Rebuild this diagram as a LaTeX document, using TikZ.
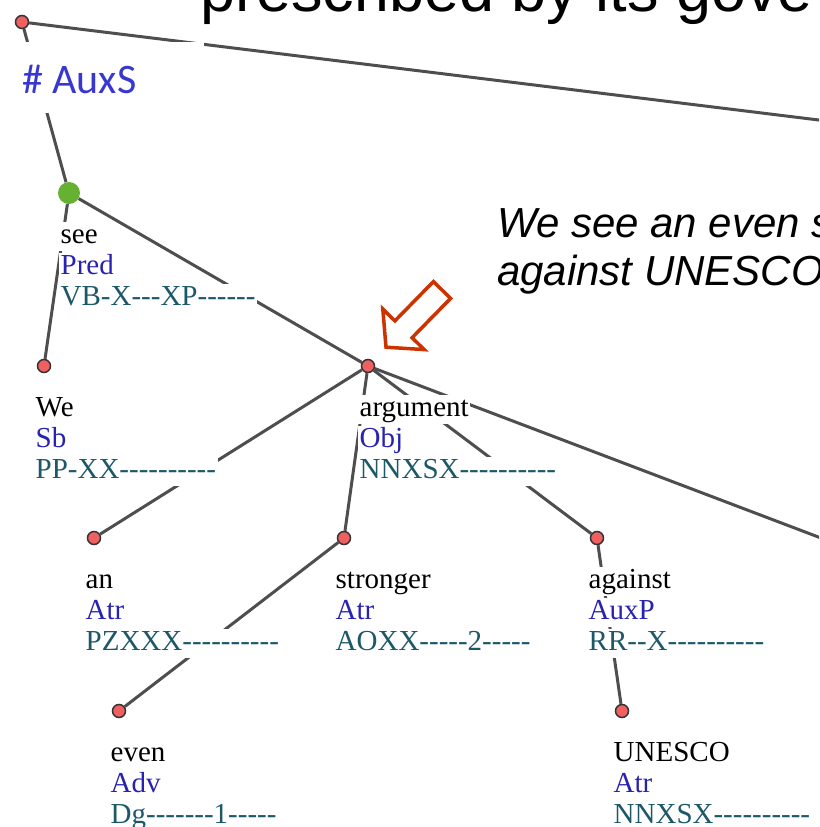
\documentclass[tikz,border=0pt]{standalone}
\usepackage{fontspec}
\setmainfont{Liberation Serif}[Ligatures=TeXOff]
\newfontfamily\slidesans{Liberation Sans}
\newfontfamily\auxsans{Carlito}
\usetikzlibrary{positioning}

\definecolor{nodered}{RGB}{240,96,96}
\definecolor{nodegreen}{RGB}{102,176,50}
\definecolor{edgegray}{RGB}{78,78,78}
\definecolor{afunblue}{RGB}{40,34,176}
\definecolor{tagteal}{RGB}{28,88,104}
\definecolor{auxblue}{RGB}{56,56,208}
\definecolor{arrowred}{RGB}{204,51,0}

\setlength{\fboxsep}{1.5pt}
% one row of a tree label, on white so that edges break behind it
\newcommand{\lblrow}[2]{\colorbox{white}{\color{#1}\vrule width 0pt height 20pt depth 6pt #2}}
\newcommand{\treelbl}[3]{\lblrow{black}{#1}\\\lblrow{afunblue}{#2}\\\lblrow{tagteal}{#3}}

\tikzset{
  tnode/.style={circle, draw=black!80, fill=nodered, line width=1.5pt, minimum size=13pt, inner sep=0pt},
  prednode/.style={circle, fill=nodegreen, minimum size=22pt, inner sep=0pt},
  dep/.style={draw=edgegray, line width=3pt},
  lbl/.style={align=left, inner sep=0pt, font=\fontsize{29}{31}\selectfont},
}

\begin{document}
\begin{tikzpicture}[x=1pt, y=-1pt]
  \useasboundingbox (0,0) rectangle (819,827);
  \clip (0,0) rectangle (819,827);

  % tree nodes
  \node[tnode] (root) at (22,22) {};
  \node[prednode] (see) at (69,193) {};
  \node[tnode] (we) at (44,366) {};
  \node[tnode] (argument) at (368,366) {};
  \node[tnode] (an) at (94,538) {};
  \node[tnode] (stronger) at (344,538) {};
  \node[tnode] (against) at (597,538) {};
  \node[tnode] (even) at (119,711) {};
  \node[tnode] (unesco) at (622,711) {};
  \coordinate (rootkid) at (900,130);
  \coordinate (argkid) at (900,568);

  % edges
  \draw[dep] (root) -- (rootkid);
  \draw[dep] (root) -- (see);
  \draw[dep] (see) -- (we);
  \draw[dep] (see) -- (argument);
  \draw[dep] (argument) -- (an);
  \draw[dep] (argument) -- (stronger);
  \draw[dep] (argument) -- (against);
  \draw[dep] (argument) -- (argkid);
  \draw[dep] (stronger) -- (even);
  \draw[dep] (against) -- (unesco);

  % labels
  \node[lbl, below right=29pt and -10pt of see.center] (seelbl) {\treelbl{see}{Pred}{VB-X---XP------}};
  \node[lbl, below right=29pt and -10pt of we.center] (welbl) {\treelbl{We}{Sb}{PP-XX----------}};
  \node[lbl, below right=29pt and -10pt of argument.center] (arglbl) {\treelbl{argument}{Obj}{NNXSX----------}};
  \node[lbl, below right=29pt and -10pt of an.center] (anlbl) {\treelbl{an}{Atr}{PZXXX----------}};
  \node[lbl, below right=29pt and -10pt of stronger.center] (strlbl) {\treelbl{stronger}{Atr}{AOXX-----2-----}};
  \node[lbl, below right=29pt and -10pt of against.center] (aglbl) {\treelbl{against}{AuxP}{RR--X----------}};
  \node[lbl, below right=29pt and -10pt of even.center] (evenlbl) {\treelbl{even}{Adv}{Dg-------1-----}};
  \node[lbl, below right=29pt and -10pt of unesco.center] (unlbl) {\treelbl{UNESCO}{Atr}{NNXSX----------}};

  % root label on its white patch
  \fill[white] (0,42) rectangle (204,113);
  \node[anchor=base west, inner sep=0pt, text=auxblue, font=\auxsans\fontsize{42}{44}\selectfont] (auxs) at (22,93) {\# AuxS};

  % hollow arrow pointing at argument
  \draw[arrowred, line width=3.5pt, line join=miter]
    (450.6,298.4) -- (433.4,281.6) -- (394.9,320.9) -- (382.8,309)
    -- (386,347.2) -- (424.2,349.6) -- (412.1,337.7) -- cycle;

  % slide text
  \node[anchor=base west, inner sep=0pt, font=\slidesans\fontsize{63}{66}\selectfont] (title) at (200,11) {prescribed by its gove};
  \node[anchor=base west, inner sep=0pt, align=left, font=\slidesans\itshape\fontsize{42}{48}\selectfont] (note) at (497,285)
    {We see an even s\\against UNESCO};
\end{tikzpicture}
\end{document}
